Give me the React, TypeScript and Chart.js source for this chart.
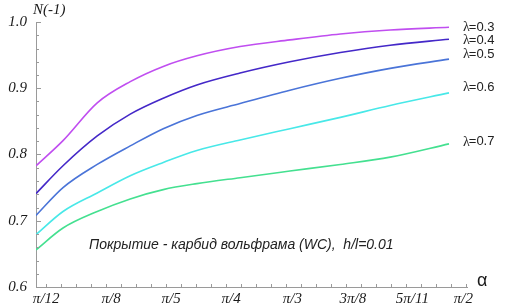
import React, { useEffect, useRef } from "react";
import { Chart, registerables } from "chart.js";

Chart.register(...registerables);

// x in abstract axis units (one unit = distance between labelled ticks)
const xs = [0, 0.45, 1.02, 1.57, 2.12, 2.68, 3.4, 4.23, 5.07, 5.9, 6.88];
const l03 = [0.783, 0.821, 0.878, 0.91, 0.933, 0.949, 0.963, 0.973, 0.982, 0.988, 0.992];
const l04 = [0.741, 0.783, 0.828, 0.861, 0.885, 0.905, 0.923, 0.94, 0.954, 0.965, 0.974];
const l05 = [0.708, 0.75, 0.785, 0.813, 0.839, 0.859, 0.877, 0.897, 0.915, 0.93, 0.944];
const l06 = [0.679, 0.714, 0.742, 0.768, 0.788, 0.806, 0.822, 0.839, 0.856, 0.874, 0.893];
const l07 = [0.656, 0.689, 0.714, 0.733, 0.747, 0.756, 0.765, 0.775, 0.785, 0.796, 0.816];

const seriesNames = ["λ=0.3", "λ=0.4", "λ=0.5", "λ=0.6", "λ=0.7"];
const seriesValues = [l03, l04, l05, l06, l07];
const seriesColors = ["#c04ef0", "#4428c8", "#4a74d8", "#48e8e8", "#44e090"];
const labelAnchors = [0.992, 0.972, 0.951, 0.901, 0.819];

const xTickPos = [0.17, 1.25, 2.25, 3.25, 4.27, 5.28, 6.27, 7.12];
const xTickLabels = ["π/12", "π/8", "π/5", "π/4", "π/3", "3π/8", "5π/11", "π/2"];
const yTicks = [0.6, 0.7, 0.8, 0.9, 1.0];

const annotation = "Покрытие - карбид вольфрама (WC),  h/l=0.01";

const decorPlugin = {
  id: "decor",
  afterDraw(chart: any) {
    const { ctx, chartArea, scales } = chart;
    const x = scales.x;
    const y = scales.y;
    ctx.save();
    // inward tick marks
    ctx.strokeStyle = "#9a9a9a";
    ctx.lineWidth = 1;
    ctx.beginPath();
    for (let i = 0; i <= 20; i++) {
      const v = 0.6 + i * 0.02;
      const py = Math.round(y.getPixelForValue(v)) + 0.5;
      const len = i % 5 === 0 ? 5 : 3;
      ctx.moveTo(chartArea.left, py);
      ctx.lineTo(chartArea.left + len, py);
    }
    for (let u = 0.17; u <= 7.18; u += 0.25) {
      const px = Math.round(x.getPixelForValue(u)) + 0.5;
      ctx.moveTo(px, chartArea.bottom);
      ctx.lineTo(px, chartArea.bottom - 3);
    }
    ctx.stroke();

    // axis titles
    ctx.fillStyle = "#1a1a1a";
    ctx.font = "italic 15px 'Liberation Serif'";
    ctx.textAlign = "left";
    ctx.textBaseline = "middle";
    ctx.fillText("N(-1)", 33, 10);
    ctx.font = "18px 'Liberation Sans'";
    ctx.fillText("α", 477, 281);

    // series labels
    seriesNames.forEach((name, i) => {
      const py = y.getPixelForValue(labelAnchors[i]);
      const lx = chartArea.right - 4;
      ctx.font = "14px 'Liberation Serif'";
      ctx.fillStyle = "#222";
      ctx.fillText("λ", lx, py);
      const w = ctx.measureText("λ").width;
      ctx.font = "13px 'Liberation Sans'";
      ctx.fillText(name.slice(1), lx + w - 1, py);
    });

    // annotation
    ctx.font = "italic 14px 'Liberation Sans'";
    ctx.fillStyle = "#222";
    ctx.fillText(annotation, 89, 245);
    ctx.restore();
  },
};

export default function App() {
  const ref = useRef<HTMLCanvasElement | null>(null);
  useEffect(() => {
    if (!ref.current) return;
    const chart = new Chart(ref.current, {
      type: "line",
      data: {
        datasets: seriesValues.map((vals, i) => ({
          label: seriesNames[i],
          data: xs.map((xv, j) => ({ x: xv, y: vals[j] })),
          borderColor: seriesColors[i],
          backgroundColor: seriesColors[i],
          borderWidth: 1.6,
          pointRadius: 0,
          cubicInterpolationMode: "monotone" as const,
          fill: false,
        })),
      },
      options: {
        animation: false,
        responsive: false,
        layout: { padding: { top: 22, right: 38, left: 0, bottom: 0 } },
        plugins: { legend: { display: false }, tooltip: { enabled: false } },
        scales: {
          x: {
            type: "linear",
            min: 0,
            max: 7.18,
            grid: { display: false, drawTicks: false },
            border: { display: true, color: "#9a9a9a", width: 1 },
            afterBuildTicks: (scale: any) => {
              scale.ticks = xTickPos.map((v) => ({ value: v }));
            },
            afterFit: (scale: any) => {
              scale.height = 19;
            },
            ticks: {
              autoSkip: false,
              maxRotation: 0,
              padding: 3,
              color: "#1a1a1a",
              font: { family: "'Liberation Serif'", size: 15, style: "italic" },
              callback: (v: any) => {
                const idx = xTickPos.findIndex((p) => Math.abs(p - Number(v)) < 1e-6);
                return idx >= 0 ? xTickLabels[idx] : "";
              },
            },
          },
          y: {
            type: "linear",
            min: 0.6,
            max: 1.0,
            grid: { display: false, drawTicks: false },
            border: { display: true, color: "#9a9a9a", width: 1 },
            afterBuildTicks: (scale: any) => {
              scale.ticks = yTicks.map((v) => ({ value: v }));
            },
            afterFit: (scale: any) => {
              scale.width = 36;
            },
            ticks: {
              padding: 9,
              color: "#1a1a1a",
              font: { family: "'Liberation Serif'", size: 15, style: "italic" },
              callback: (v: any) => Number(v).toFixed(1),
            },
          },
        },
      },
      plugins: [decorPlugin],
    });
    return () => chart.destroy();
  }, []);
  return (
    <div style={{ position: "fixed", left: 0, top: 0, width: 505, height: 306, background: "#fff" }}>
      <canvas ref={ref} width={505} height={306} style={{ display: "block" }} />
    </div>
  );
}
